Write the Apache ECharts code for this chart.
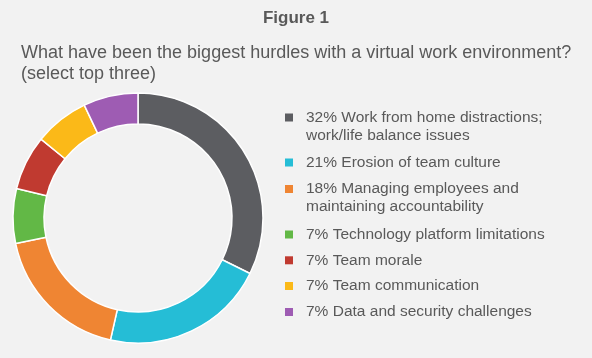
<!DOCTYPE html>
<html>
<head>
<meta charset="utf-8">
<script src="https://cdn.jsdelivr.net/npm/echarts@6/dist/echarts.min.js"></script>
<style>
  html, body { margin: 0; padding: 0; background: #f2f2f2; }
  #chart { width: 592px; height: 358px; }
</style>
</head>
<body>
<div id="chart"></div>
<script>
const titleText = 'Figure 1';
const subtitleText = 'What have been the biggest hurdles with a virtual work environment?\n(select top three)';
const categories = [
  'Work from home distractions;\nwork/life balance issues',
  'Erosion of team culture',
  'Managing employees and\nmaintaining accountability',
  'Technology platform limitations',
  'Team morale',
  'Team communication',
  'Data and security challenges'
];
const values = [32, 21, 18, 7, 7, 7, 7];
const colors = ['#5c5d61', '#25bdd6', '#ef8533', '#62b846', '#c03a30', '#fbb918', '#9e5cb3'];

const FONT = '"Liberation Sans", Arial, sans-serif';
const TEXT_COLOR = '#595959';
// vertical centre of the first text line of each legend row
const rowCenters = [117.5, 162.5, 189, 234.5, 260.3, 286, 312];
const LINE_H = 18;

const chart = echarts.init(document.getElementById('chart'));

const legends = categories.map((name, i) => {
  const lines = name.split('\n').length;
  // blank leading lines so that the first real line sits at the marker's centre
  const pad = lines - 1;
  const totalLines = lines + pad;
  const boxH = totalLines * LINE_H;
  return {
    show: true,
    orient: 'vertical',
    left: 285,
    top: rowCenters[i] - boxH / 2,
    padding: 0,
    icon: 'rect',
    itemWidth: 8,
    itemHeight: 8,
    itemStyle: { borderWidth: 0 },
    selectedMode: false,
    data: [name],
    formatter: (n) => '\n'.repeat(pad) + values[categories.indexOf(n)] + '% ' + n,
    textStyle: {
      fontFamily: FONT,
      fontSize: 15.5,
      color: TEXT_COLOR,
      lineHeight: LINE_H,
      padding: [0, 0, 0, 8]
    }
  };
});

chart.setOption({
  backgroundColor: '#f2f2f2',
  animation: false,
  color: colors,
  title: [
    {
      text: titleText,
      left: 'center',
      top: 8,
      padding: 0,
      textStyle: { fontFamily: FONT, fontSize: 17, fontWeight: 'bold', color: TEXT_COLOR, lineHeight: 20 }
    },
    {
      text: subtitleText,
      left: 21,
      top: 42,
      padding: 0,
      textStyle: { fontFamily: FONT, fontSize: 18, fontWeight: 'normal', color: TEXT_COLOR, lineHeight: 21.5 }
    }
  ],
  legend: legends,
  series: [{
    type: 'pie',
    center: [138, 218],
    radius: [94, 125],
    startAngle: 90,
    clockwise: true,
    label: { show: false },
    labelLine: { show: false },
    emphasis: { disabled: true },
    itemStyle: { borderColor: '#ffffff', borderWidth: 1.5 },
    data: categories.map((name, i) => ({ name: name, value: values[i] }))
  }]
});
</script>
</body>
</html>
